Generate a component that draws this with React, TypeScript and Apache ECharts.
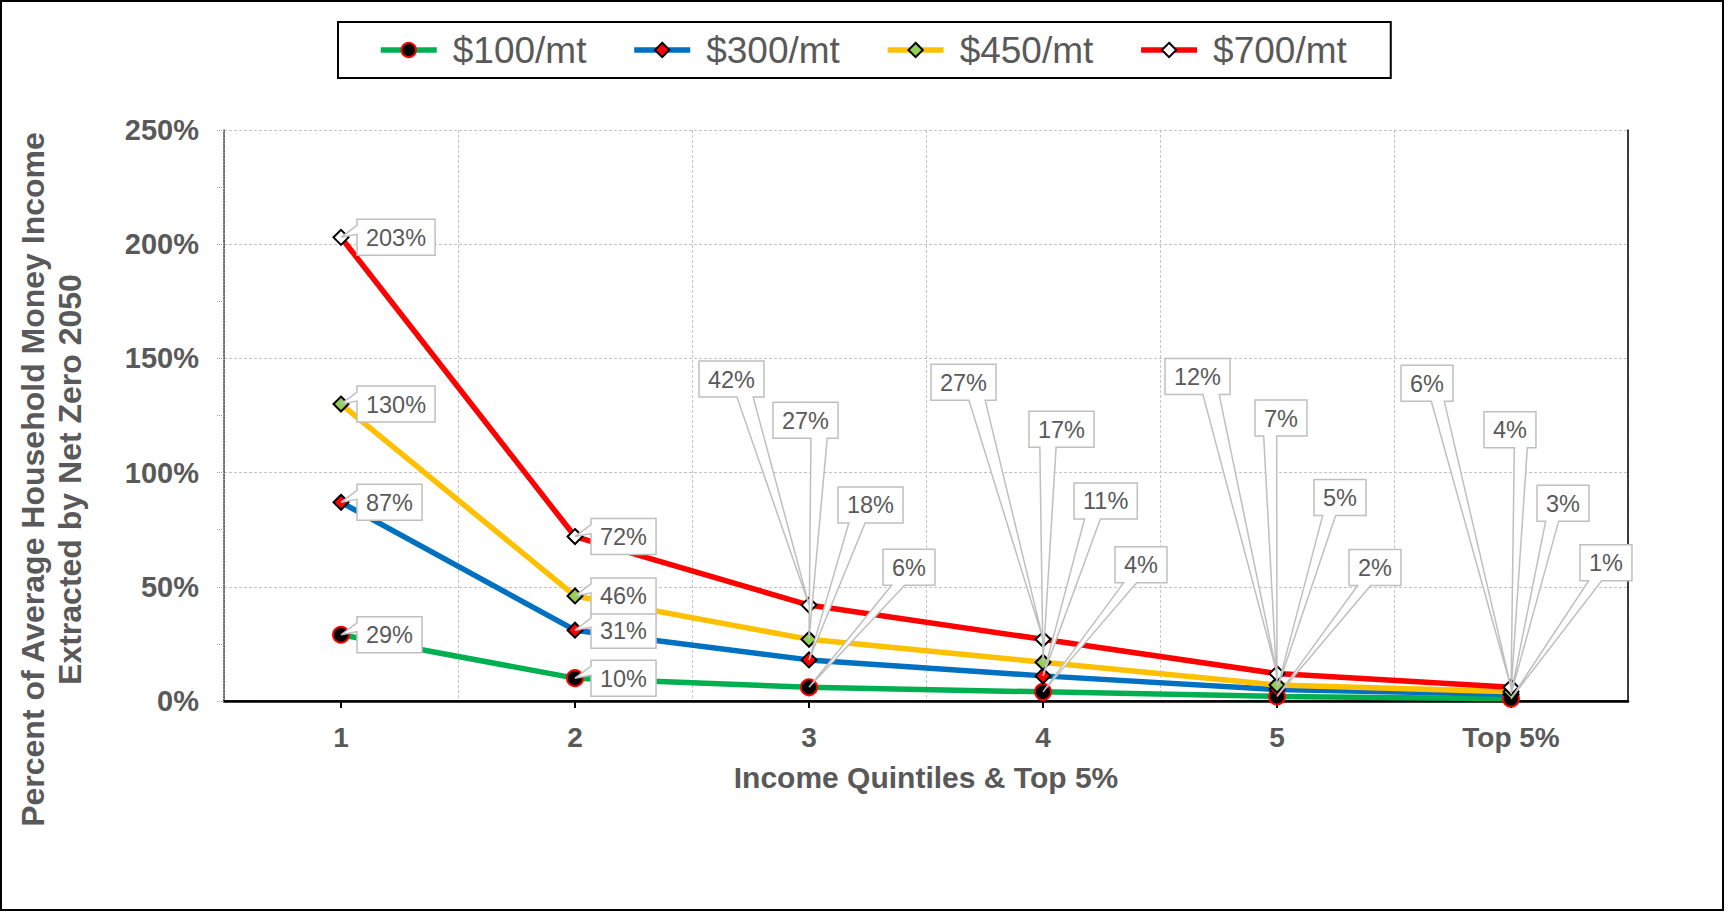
import React, { useEffect, useRef } from "react";
import * as echarts from "echarts";

// ---- Data ----
const CATEGORIES = ["1", "2", "3", "4", "5", "Top 5%"];
const SERIES_NAMES = ["$100/mt", "$300/mt", "$450/mt", "$700/mt"];
const V100 = [29, 10, 6, 4, 2, 1];
const V300 = [87, 31, 18, 11, 5, 3];
const V450 = [130, 46, 27, 17, 7, 4];
const V700 = [203, 72, 42, 27, 12, 6];
const SERIES_VALUES = [V100, V300, V450, V700];
const Y_MIN = 0;
const Y_MAX = 250;
const Y_INTERVAL = 50;

// ---- Styles / layout ----
const FONT = '"Liberation Sans", Arial, Helvetica, sans-serif';
const TEXT_GRAY = "#595959";
const LINE_COLORS = ["#00B050", "#0070C0", "#FFC000", "#FF0000"];
const LINE_WIDTH = 5.5;
const MARKER_SYMBOLS = ["circle", "diamond", "diamond", "diamond"];
const MARKER_SIZES = [16, 15, 15, 15];
const MARKER_FILLS = ["#000000", "#FF0000", "#92D050", "#FFFFFF"];
const MARKER_BORDERS = ["#FF0000", "#000000", "#000000", "#000000"];

// callout box placement relative to its point: [box left - x, box top - y] in px
const CALLOUT_OFFSETS = [
  [[16, -18], [16, -18], [74, -138], [72, -145], [72, -147], [69, -154]],
  [[16, -18], [16, -18], [29, -173], [31, -193], [37, -210], [26, -209]],
  [[16, -18], [16, -18], [-36, -237], [-14, -251], [-22, -285], [-27, -280]],
  [[16, -18], [16, -18], [-110, -244], [-112, -275], [-112, -315], [-110, -322]],
];
const CALLOUT_FONT_SIZE = 23.5;
const CALLOUT_PAD = 9;
const CALLOUT_H = 36;

let measureCtx: CanvasRenderingContext2D | null = null;
function textWidth(t: string): number {
  if (!measureCtx) {
    measureCtx = document.createElement("canvas").getContext("2d");
  }
  if (!measureCtx) return t.length * CALLOUT_FONT_SIZE * 0.55;
  measureCtx.font = `${CALLOUT_FONT_SIZE}px ${FONT}`;
  return measureCtx.measureText(t).width;
}

// Excel-like wedgeRectCallout outline
function calloutPoints(l: number, t: number, w: number, h: number, tx: number, ty: number) {
  const r = l + w;
  const b = t + h;
  const hc = l + w / 2;
  const vc = t + h / 2;
  const dxPos = tx - hc;
  const dyPos = ty - vc;
  const dq = (dxPos * h) / w;
  const dz = Math.abs(dyPos) - Math.abs(dq);
  const xg1 = dxPos > 0 ? 7 : 2;
  const xg2 = dxPos > 0 ? 10 : 5;
  const yg1 = dyPos > 0 ? 7 : 2;
  const yg2 = dyPos > 0 ? 10 : 5;
  const x1 = l + (w * xg1) / 12;
  const x2 = l + (w * xg2) / 12;
  const y1 = t + (h * yg1) / 12;
  const y2 = t + (h * yg2) / 12;
  const pts: number[][] = [[l, t]];
  if (dz > 0 && dyPos < 0) pts.push([x1, t], [tx, ty], [x2, t]);
  pts.push([r, t]);
  if (dz <= 0 && dxPos > 0) pts.push([r, y1], [tx, ty], [r, y2]);
  pts.push([r, b]);
  if (dz > 0 && dyPos >= 0) pts.push([x2, b], [tx, ty], [x1, b]);
  pts.push([l, b]);
  if (dz <= 0 && dxPos <= 0) pts.push([l, y2], [tx, ty], [l, y1]);
  return pts;
}

export default function App() {
  const ref = useRef<HTMLDivElement>(null);

  useEffect(() => {
    document.body.style.margin = "0";
    if (!ref.current) return;
    const chart = echarts.init(ref.current, undefined, { renderer: "svg" });

    const lineSeries = SERIES_NAMES.map((name, s) => ({
      name,
      type: "line",
      data: SERIES_VALUES[s],
      xAxisIndex: 0,
      yAxisIndex: 0,
      symbol: MARKER_SYMBOLS[s],
      symbolSize: MARKER_SIZES[s],
      showAllSymbol: true,
      z: 2,
      lineStyle: { color: LINE_COLORS[s], width: LINE_WIDTH },
      itemStyle: {
        color: MARKER_FILLS[s],
        borderColor: MARKER_BORDERS[s],
        borderWidth: 2,
      },
      emphasis: { disabled: true },
    }));

    const calloutData: number[][] = [];
    SERIES_VALUES.forEach((vals, s) => {
      vals.forEach((v, i) => calloutData.push([i, v, s]));
    });

    const calloutSeries = {
      name: "callouts",
      type: "custom",
      coordinateSystem: "cartesian2d",
      xAxisIndex: 0,
      yAxisIndex: 0,
      data: calloutData,
      encode: { x: 0, y: 1 },
      clip: false,
      silent: true,
      z: 5,
      renderItem: (params: any, api: any) => {
        const cat = api.value(0);
        const val = api.value(1);
        const s = api.value(2);
        const p = api.coord([cat, val]);
        const off = CALLOUT_OFFSETS[s][cat];
        const text = `${Math.round(val)}%`;
        const w = textWidth(text) + CALLOUT_PAD * 2;
        const h = CALLOUT_H;
        const l = p[0] + off[0];
        const t = p[1] + off[1];
        return {
          type: "group",
          children: [
            {
              type: "polygon",
              shape: { points: calloutPoints(l, t, w, h, p[0], p[1]) },
              style: { fill: "#FFFFFF", stroke: "#BFBFBF", lineWidth: 1.5 },
            },
            {
              type: "text",
              style: {
                text,
                x: l + w / 2,
                y: t + h / 2 + 0.5,
                align: "center",
                verticalAlign: "middle",
                fill: TEXT_GRAY,
                fontSize: CALLOUT_FONT_SIZE,
                fontFamily: FONT,
              },
            },
          ],
        };
      },
    };

    const gridLine = { type: [3, 2], color: "#C4C4C4", width: 1 };

    chart.setOption({
      animation: false,
      backgroundColor: "#FFFFFF",
      textStyle: { fontFamily: FONT },
      grid: { left: 224, top: 130, width: 1404, height: 571, containLabel: false },
      legend: {
        data: SERIES_NAMES,
        left: 338,
        top: 22,
        orient: "horizontal",
        padding: [8, 44, 8, 40],
        itemGap: 45,
        itemWidth: 56,
        itemHeight: 18,
        borderColor: "#000000",
        borderWidth: 2,
        backgroundColor: "#FFFFFF",
        lineStyle: { width: LINE_WIDTH },
        textStyle: {
          fontSize: 37,
          color: TEXT_GRAY,
          fontFamily: FONT,
          padding: [0, 0, 0, 11],
          lineHeight: 40,
        },
      },
      xAxis: [
        {
          type: "category",
          data: CATEGORIES,
          boundaryGap: true,
          position: "bottom",
          name: "Income Quintiles & Top 5%",
          nameLocation: "middle",
          nameGap: 61,
          nameTextStyle: {
            fontSize: 30,
            fontWeight: "bold",
            color: TEXT_GRAY,
            fontFamily: FONT,
          },
          axisLine: { show: true, onZero: false, lineStyle: { color: "#000000", width: 2.5 } },
          axisTick: {
            show: true,
            alignWithLabel: true,
            length: 7,
            lineStyle: { color: "#000000", width: 2 },
          },
          axisLabel: {
            fontSize: 28,
            fontWeight: "bold",
            color: TEXT_GRAY,
            fontFamily: FONT,
            margin: 22,
          },
          splitLine: { show: true, lineStyle: gridLine },
        },
        {
          type: "category",
          data: CATEGORIES,
          position: "top",
          axisLine: { show: true, lineStyle: { color: "#000000", width: 1.5 } },
          axisTick: { show: false },
          axisLabel: { show: false },
          splitLine: { show: false },
        },
      ],
      yAxis: [
        {
          type: "value",
          min: Y_MIN,
          max: Y_MAX,
          interval: Y_INTERVAL,
          position: "left",
          axisLine: { show: true, lineStyle: { color: "#404040", width: 1.5, type: "dotted" } },
          axisTick: {
            show: true,
            length: 8,
            lineStyle: { color: "#9A9A9A", width: 1, type: "dotted" },
          },
          minorTick: {
            show: true,
            splitNumber: 2,
            length: 8,
            lineStyle: { color: "#9A9A9A", width: 1, type: "dotted" },
          },
          axisLabel: {
            formatter: "{value}%",
            fontSize: 29,
            fontWeight: "bold",
            color: TEXT_GRAY,
            fontFamily: FONT,
            margin: 25,
          },
          splitLine: { show: true, lineStyle: gridLine },
        },
        {
          type: "value",
          min: Y_MIN,
          max: Y_MAX,
          interval: Y_INTERVAL,
          position: "right",
          axisLine: { show: true, lineStyle: { color: "#000000", width: 1.5 } },
          axisTick: { show: false },
          axisLabel: { show: false },
          splitLine: { show: false },
        },
      ],
      graphic: [
        {
          type: "rect",
          z: -10,
          silent: true,
          shape: { x: 1, y: 1, width: 1722, height: 909 },
          style: { fill: "none", stroke: "#000000", lineWidth: 2 },
        },
        {
          type: "text",
          x: 51,
          y: 479.5,
          rotation: Math.PI / 2,
          silent: true,
          style: {
            text: "Percent of Average Household Money Income\nExtracted by Net Zero 2050",
            fontSize: 32,
            fontWeight: "bold",
            fill: TEXT_GRAY,
            fontFamily: FONT,
            align: "center",
            verticalAlign: "middle",
            lineHeight: 37,
          },
        },
      ],
      series: [...lineSeries, calloutSeries],
    });

    return () => {
      chart.dispose();
    };
  }, []);

  return <div ref={ref} style={{ width: 1729, height: 913 }} />;
}
